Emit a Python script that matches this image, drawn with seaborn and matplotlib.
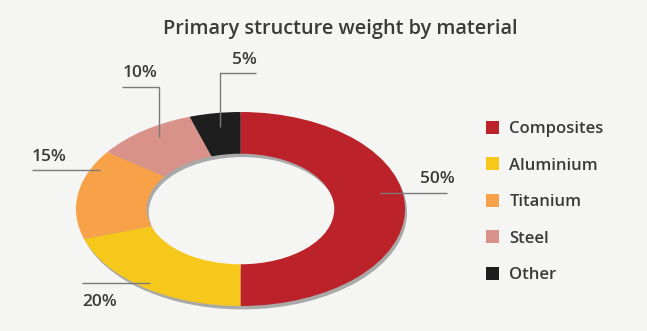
import matplotlib
matplotlib.use("Agg")
import matplotlib.pyplot as plt
import seaborn as sns

# ---- data ----
materials = ["Composites", "Aluminium", "Titanium", "Steel", "Other"]
shares = [50, 20, 15, 10, 5]
pct_labels = ["50%", "20%", "15%", "10%", "5%"]
colors = ["#bb2229", "#f7c81c", "#f7a148", "#d8928a", "#1e1e1e"]
title = "Primary structure weight by material"

sns.set_theme(style="white")
plt.rcParams["font.family"] = ["Open Sans", "DejaVu Sans"]

W, H = 647, 331
bg = "#f5f5f3"
fig = plt.figure(figsize=(W / 100, H / 100), dpi=100, facecolor=bg)

# donut axes (ellipse bounding box in pixels)
x0, x1, y0, y1 = 76, 405, 112, 306
axp = fig.add_axes([x0 / W, 1 - y1 / H, (x1 - x0) / W, (y1 - y0) / H])
axp.set_facecolor("none")
width = 0.43
# shadow ring
axp.pie([1], radius=1.0, center=(0.012, -0.035), colors=["#a9a9a9"],
        startangle=90, counterclock=False,
        wedgeprops=dict(width=width, linewidth=0))
wedges, _ = axp.pie(shares, radius=1.0, colors=colors, startangle=90,
                    counterclock=False,
                    wedgeprops=dict(width=width, linewidth=0))
axp.set_aspect("auto")
axp.set_xlim(-1.0, 1.0)
axp.set_ylim(-1.0, 1.0)
axp.axis("off")

# overlay axes in pixel coordinates for title, labels, leader lines
ax = fig.add_axes([0, 0, 1, 1], zorder=5)
ax.set_xlim(0, W)
ax.set_ylim(H, 0)
ax.axis("off")
ax.patch.set_alpha(0)

txt = "#3a3a3a"
line_c = "#7a7a7a"
ax.text(340, 29, title, ha="center", va="center", fontsize=14.3,
        fontweight="semibold", color=txt)

# leader line layouts: (polyline xs, ys, text x, text y, ha)
layout = {
    "50%": ([380, 447], [193, 193], 437, 179, "center"),
    "20%": ([150, 82], [283, 283], 100, 302, "center"),
    "15%": ([100, 32], [170, 170], 49, 157, "center"),
    "10%": ([159, 159, 122], [137, 87, 87], 140, 73, "center"),
    "5%": ([220, 220, 256], [127, 73, 73], 244, 60, "center"),
}
for lab in pct_labels:
    xs, ys, tx, ty, ha = layout[lab]
    ax.plot(xs, ys, color=line_c, lw=1.0, solid_capstyle="butt")
    ax.text(tx, ty, lab, ha=ha, va="center", fontsize=12.5,
            fontweight="semibold", color=txt)

leg = axp.legend(wedges, materials, loc="center left",
                 bbox_to_anchor=(486 / W, 1 - 202 / H), bbox_transform=fig.transFigure,
                 frameon=False, fontsize=12, handlelength=0.8, handleheight=0.8,
                 handletextpad=0.6, labelspacing=1.22, borderaxespad=0, borderpad=0)
for t in leg.get_texts():
    t.set_color(txt)
    t.set_fontweight("semibold")

fig.savefig("out.png", dpi=100, facecolor=bg)
